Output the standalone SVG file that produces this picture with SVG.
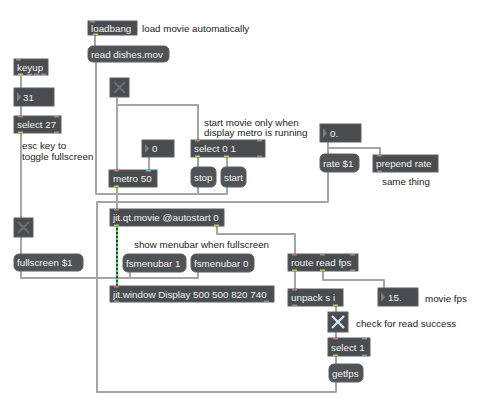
<svg xmlns="http://www.w3.org/2000/svg" width="480" height="408" viewBox="0 0 480 408">
<style>
.bg{fill:#ffffff}
.obj{fill:#4a4d4f;stroke:#5c5f61;stroke-width:1}
.msg{fill:#505355;stroke:#5c5f61;stroke-width:1}
.t{font-family:"Liberation Sans",Arial,sans-serif;font-size:9.8px;fill:#f2f2f2}
.c{font-family:"Liberation Sans",Arial,sans-serif;font-size:9.8px;fill:#1a1a1a}
.cord{stroke:#a5a5a5;stroke-width:2;fill:none;stroke-linejoin:round}
.jbase{stroke:#3a3a3a;stroke-width:2;fill:none}
.jdash{stroke:#3ddc4a;stroke-width:2;fill:none;stroke-dasharray:2 2}
.port{fill:#8d9092}
.in{fill:#d27070}
.out{fill:#b8d050}
.tri{fill:#7c7f81}
.xoff{stroke:#6c6f71;stroke-width:2}
.xon{stroke:#d4ecf4;stroke-width:2.2}
</style>
<rect class="bg" x="0" y="0" width="480" height="408"/>

<g id="connectors">
  <polyline class="cord" points="95,35 95,46"/>
  <polyline class="cord" points="96,62 96,194 117,194 117,209"/>
  <polyline class="cord" points="21,76 21,88"/>
  <polyline class="cord" points="21,106 21,116"/>
  <polyline class="cord" points="21,133 21,218"/>
  <polyline class="cord" points="21,237 21,254"/>
  <polyline class="cord" points="21,271 21,278 117,278 117,286"/>
  <polyline class="cord" points="130,272 130,278 117,278"/>
  <polyline class="cord" points="198,272 198,278 117,278"/>
  <polyline class="cord" points="117,98 117,170"/>
  <polyline class="cord" points="117,105 198,105 198,140"/>
  <polyline class="cord" points="149,157 149,170"/>
  <polyline class="cord" points="198,157 198,167"/>
  <polyline class="cord" points="227,157 227,167"/>
  <polyline class="cord" points="198,187 198,194 117,194"/>
  <polyline class="cord" points="227,187 227,194 117,194"/>
  <polyline class="cord" points="117,187 117,209"/>
  <polyline class="cord" points="217,226 217,234 295,234 295,254"/>
  <polyline class="cord" points="295,271 295,289"/>
  <polyline class="cord" points="323,271 323,280 384,280 384,288"/>
  <polyline class="cord" points="336,306 336,312"/>
  <polyline class="cord" points="336,332 336,338"/>
  <polyline class="cord" points="336,356 336,364"/>
  <polyline class="cord" points="336,382 336,392 97,392 97,202 117,202 117,209"/>
  <polyline class="cord" points="328,172 328,202 117,202"/>
  <polyline class="cord" points="328,142 328,154"/>
  <polyline class="cord" points="328,148 380,148 380,155"/>
  <polyline class="jbase" points="117,226 117,286"/>
  <polyline class="jdash" points="117,226 117,286"/>
</g>

<g id="loadbang"><rect class="obj" x="88" y="21" width="49" height="14"/><rect class="port" x="90" y="21" width="5" height="1.5"/><rect class="out" x="93" y="33.5" width="5" height="1.5"/><text class="t" x="91" y="31.5">loadbang</text></g>
<g id="c_load"><text class="c" x="142" y="31.5">load movie automatically</text></g>
<g id="read"><rect class="msg" x="88" y="46" width="81" height="16" rx="5"/><text class="t" x="91" y="57.5">read dishes.mov</text></g>

<g id="keyup"><rect class="obj" x="14" y="59" width="34" height="16"/><rect class="port" x="16" y="59" width="5" height="1.5"/><rect class="out" x="18" y="73.5" width="5" height="1.5"/><rect class="port" x="27" y="73.5" width="5" height="1.5"/><rect class="port" x="34" y="73.5" width="5" height="1.5"/><rect class="port" x="41" y="73.5" width="5" height="1.5"/><text class="t" x="17" y="70.5">keyup</text></g>
<g id="num31"><rect class="obj" x="14" y="88" width="40" height="18"/><polygon class="tri" points="17,92 21,97 17,102"/><text class="t" x="23" y="100.5">31</text></g>
<g id="select27"><rect class="obj" x="14" y="116" width="47" height="17"/><rect class="in" x="18" y="116" width="5" height="1.5"/><rect class="port" x="54" y="116" width="5" height="1.5"/><rect class="out" x="18" y="131.5" width="5" height="1.5"/><rect class="port" x="54" y="131.5" width="5" height="1.5"/><text class="t" x="17" y="128">select 27</text></g>
<g id="c_esc"><text class="c" x="22" y="148.5">esc key to</text><text class="c" x="22" y="159.5">toggle fullscreen</text></g>

<g id="toggle1"><rect class="obj" x="110" y="78" width="19" height="19"/><line class="xoff" x1="114" y1="82" x2="125" y2="93"/><line class="xoff" x1="125" y1="82" x2="114" y2="93"/></g>

<g id="c_start"><text class="c" x="204" y="125.5">start movie only when</text><text class="c" x="204" y="136">display metro is running</text></g>
<g id="num0"><rect class="obj" x="142" y="140" width="32" height="17"/><polygon class="tri" points="145,144 149,148.5 145,153"/><text class="t" x="152" y="152">0</text></g>
<g id="select01"><rect class="obj" x="191" y="140" width="74" height="17"/><rect class="in" x="195" y="140" width="5" height="1.5"/><rect class="port" x="257" y="140" width="5" height="1.5"/><rect class="out" x="195" y="155.5" width="5" height="1.5"/><rect class="out" x="224" y="155.5" width="5" height="1.5"/><rect class="port" x="257" y="155.5" width="5" height="1.5"/><text class="t" x="194" y="152">select 0 1</text></g>
<g id="metro"><rect class="obj" x="109" y="170" width="48" height="17"/><rect class="in" x="114" y="170" width="5" height="1.5"/><rect x="146" y="170" width="5" height="1.5" fill="#5ec8e0"/><rect class="out" x="114" y="185.5" width="5" height="1.5"/><text class="t" x="113" y="182">metro 50</text></g>
<g id="stop"><rect class="msg" x="191" y="167" width="25" height="20" rx="5"/><text class="t" x="194" y="180.5">stop</text></g>
<g id="start"><rect class="msg" x="221" y="167" width="25" height="20" rx="5"/><text class="t" x="224" y="180.5">start</text></g>

<g id="num0f"><rect class="obj" x="320" y="124" width="41" height="18"/><polygon class="tri" points="323,128 327,133 323,138"/><text class="t" x="330" y="136.5">0.</text></g>
<g id="rate"><rect class="msg" x="320" y="154" width="39" height="18" rx="5"/><text class="t" x="323" y="166.5">rate $1</text></g>
<g id="prepend"><rect class="obj" x="373" y="155" width="65" height="17"/><rect class="in" x="377" y="155" width="5" height="1.5"/><rect class="port" x="377" y="170.5" width="5" height="1.5"/><text class="t" x="376" y="167">prepend rate</text></g>
<g id="c_same"><text class="c" x="382" y="184.5">same thing</text></g>

<g id="qtmovie"><rect class="obj" x="110" y="209" width="114" height="17"/><rect class="in" x="114" y="209" width="5" height="1.5"/><rect class="out" x="114" y="224.5" width="5" height="1.5"/><rect class="out" x="214" y="224.5" width="5" height="1.5"/><text class="t" x="113" y="221">jit.qt.movie @autostart 0</text></g>

<g id="toggle2"><rect class="obj" x="14" y="218" width="19" height="19"/><line class="xoff" x1="18" y1="222" x2="29" y2="233"/><line class="xoff" x1="29" y1="222" x2="18" y2="233"/></g>
<g id="c_menubar"><text class="c" x="134" y="247.5">show menubar when fullscreen</text></g>
<g id="fullscreen"><rect class="msg" x="14" y="254" width="69" height="17" rx="5"/><text class="t" x="17" y="266">fullscreen $1</text></g>
<g id="fsm1"><rect class="msg" x="123" y="254" width="63" height="18" rx="5"/><text class="t" x="126" y="266.5">fsmenubar 1</text></g>
<g id="fsm0"><rect class="msg" x="191" y="254" width="63" height="18" rx="5"/><text class="t" x="194" y="266.5">fsmenubar 0</text></g>
<g id="jitwindow"><rect class="obj" x="110" y="286" width="164" height="16"/><rect class="in" x="114" y="286" width="5" height="1.5"/><rect class="port" x="114" y="300.5" width="5" height="1.5"/><rect class="port" x="264" y="300.5" width="5" height="1.5"/><text class="t" x="113" y="297.5">jit.window Display 500 500 820 740</text></g>

<g id="route"><rect class="obj" x="288" y="254" width="70" height="17"/><rect class="in" x="292" y="254" width="5" height="1.5"/><rect class="port" x="320" y="254" width="5" height="1.5"/><rect class="port" x="350" y="254" width="5" height="1.5"/><rect class="out" x="292" y="269.5" width="5" height="1.5"/><rect class="out" x="320" y="269.5" width="5" height="1.5"/><rect class="port" x="350" y="269.5" width="5" height="1.5"/><text class="t" x="291" y="266">route read fps</text></g>
<g id="unpack"><rect class="obj" x="288" y="289" width="55" height="17"/><rect class="in" x="292" y="289" width="5" height="1.5"/><rect class="port" x="292" y="304.5" width="5" height="1.5"/><rect class="out" x="333" y="304.5" width="5" height="1.5"/><text class="t" x="291" y="301">unpack s i</text></g>
<g id="num15"><rect class="obj" x="378" y="288" width="40" height="18"/><polygon class="tri" points="381,292 385,297 381,302"/><text class="t" x="388" y="300.5">15.</text></g>
<g id="c_fps"><text class="c" x="425" y="301.5">movie fps</text></g>
<g id="toggle3"><rect class="obj" x="328" y="312" width="20" height="20"/><line class="xon" x1="332" y1="316" x2="344" y2="328"/><line class="xon" x1="344" y1="316" x2="332" y2="328"/></g>
<g id="c_check"><text class="c" x="356" y="326.5">check for read success</text></g>
<g id="select1"><rect class="obj" x="328" y="338" width="42" height="18"/><rect class="in" x="333" y="338" width="5" height="1.5"/><rect class="port" x="362" y="338" width="5" height="1.5"/><rect class="out" x="333" y="354.5" width="5" height="1.5"/><rect class="port" x="362" y="354.5" width="5" height="1.5"/><text class="t" x="331" y="350.5">select 1</text></g>
<g id="getfps"><rect class="msg" x="329" y="364" width="34" height="18" rx="5"/><text class="t" x="332" y="376.5">getfps</text></g>
</svg>
